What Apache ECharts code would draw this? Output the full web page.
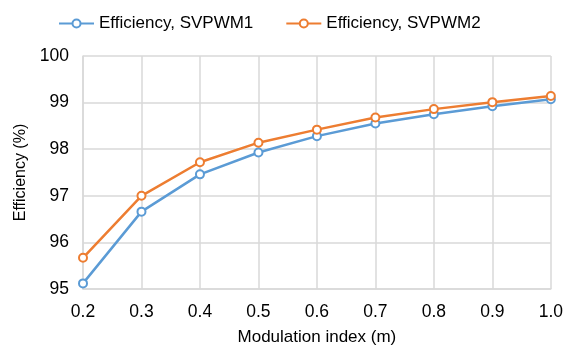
<!DOCTYPE html>
<html><head><meta charset="utf-8">
<script src="https://cdn.jsdelivr.net/npm/echarts@6/dist/echarts.min.js"></script>
<style>html,body{margin:0;padding:0;background:#fff}#c{width:566px;height:351px}</style>
</head><body><div id="c"></div>
<script>
const categories = ['0.2','0.3','0.4','0.5','0.6','0.7','0.8','0.9','1.0'];
const svpwm1 = [95.12, 96.66, 97.46, 97.93, 98.28, 98.55, 98.75, 98.92, 99.07];
const svpwm2 = [95.67, 97.00, 97.72, 98.14, 98.42, 98.68, 98.86, 99.01, 99.14];
const seriesNames = ['Efficiency, SVPWM1', 'Efficiency, SVPWM2'];
const colors = ['#5B9BD5', '#ED7D31'];
const font = 'Liberation Sans, Arial, sans-serif';
const chart = echarts.init(document.getElementById('c'), null, {renderer: 'canvas'});
function mk(name, data, color) {
  return {
    name, type: 'line', data, color,
    symbol: 'emptyCircle', symbolSize: 8,
    lineStyle: {width: 2.5, color},
    itemStyle: {color, borderWidth: 2},
    animation: false
  };
}
chart.setOption({
  animation: false,
  textStyle: {fontFamily: font},
  legend: {
    top: 10, left: 53, itemGap: 32, itemWidth: 35, itemHeight: 10,
    textStyle: {fontSize: 17, color: '#000', fontFamily: font},
    data: seriesNames
  },
  grid: {left: 83, right: 11, top: 56, bottom: 61, containLabel: false},
  xAxis: {
    type: 'category', data: categories, boundaryGap: false,
    name: 'Modulation index (m)', nameLocation: 'middle', nameGap: 40,
    nameTextStyle: {fontSize: 17, color: '#000', fontFamily: font},
    axisLine: {show: true, lineStyle: {color: '#d9d9d9', width: 1.5}},
    axisTick: {show: false},
    axisLabel: {fontSize: 17.5, color: '#000', margin: 14, fontFamily: font},
    splitLine: {show: true, lineStyle: {color: '#d9d9d9', width: 1.5}}
  },
  yAxis: {
    type: 'value', min: 95, max: 100, interval: 1,
    name: 'Efficiency (%)', nameLocation: 'middle', nameGap: 52, nameRotate: 90,
    nameTextStyle: {fontSize: 16, color: '#000', fontFamily: font},
    axisLine: {show: true, lineStyle: {color: '#d9d9d9', width: 1.5}},
    axisTick: {show: false},
    axisLabel: {fontSize: 17.5, color: '#000', margin: 14, fontFamily: font},
    splitLine: {show: true, lineStyle: {color: '#d9d9d9', width: 1.5}}
  },
  series: [mk(seriesNames[0], svpwm1, colors[0]), mk(seriesNames[1], svpwm2, colors[1])]
});
</script></body></html>
